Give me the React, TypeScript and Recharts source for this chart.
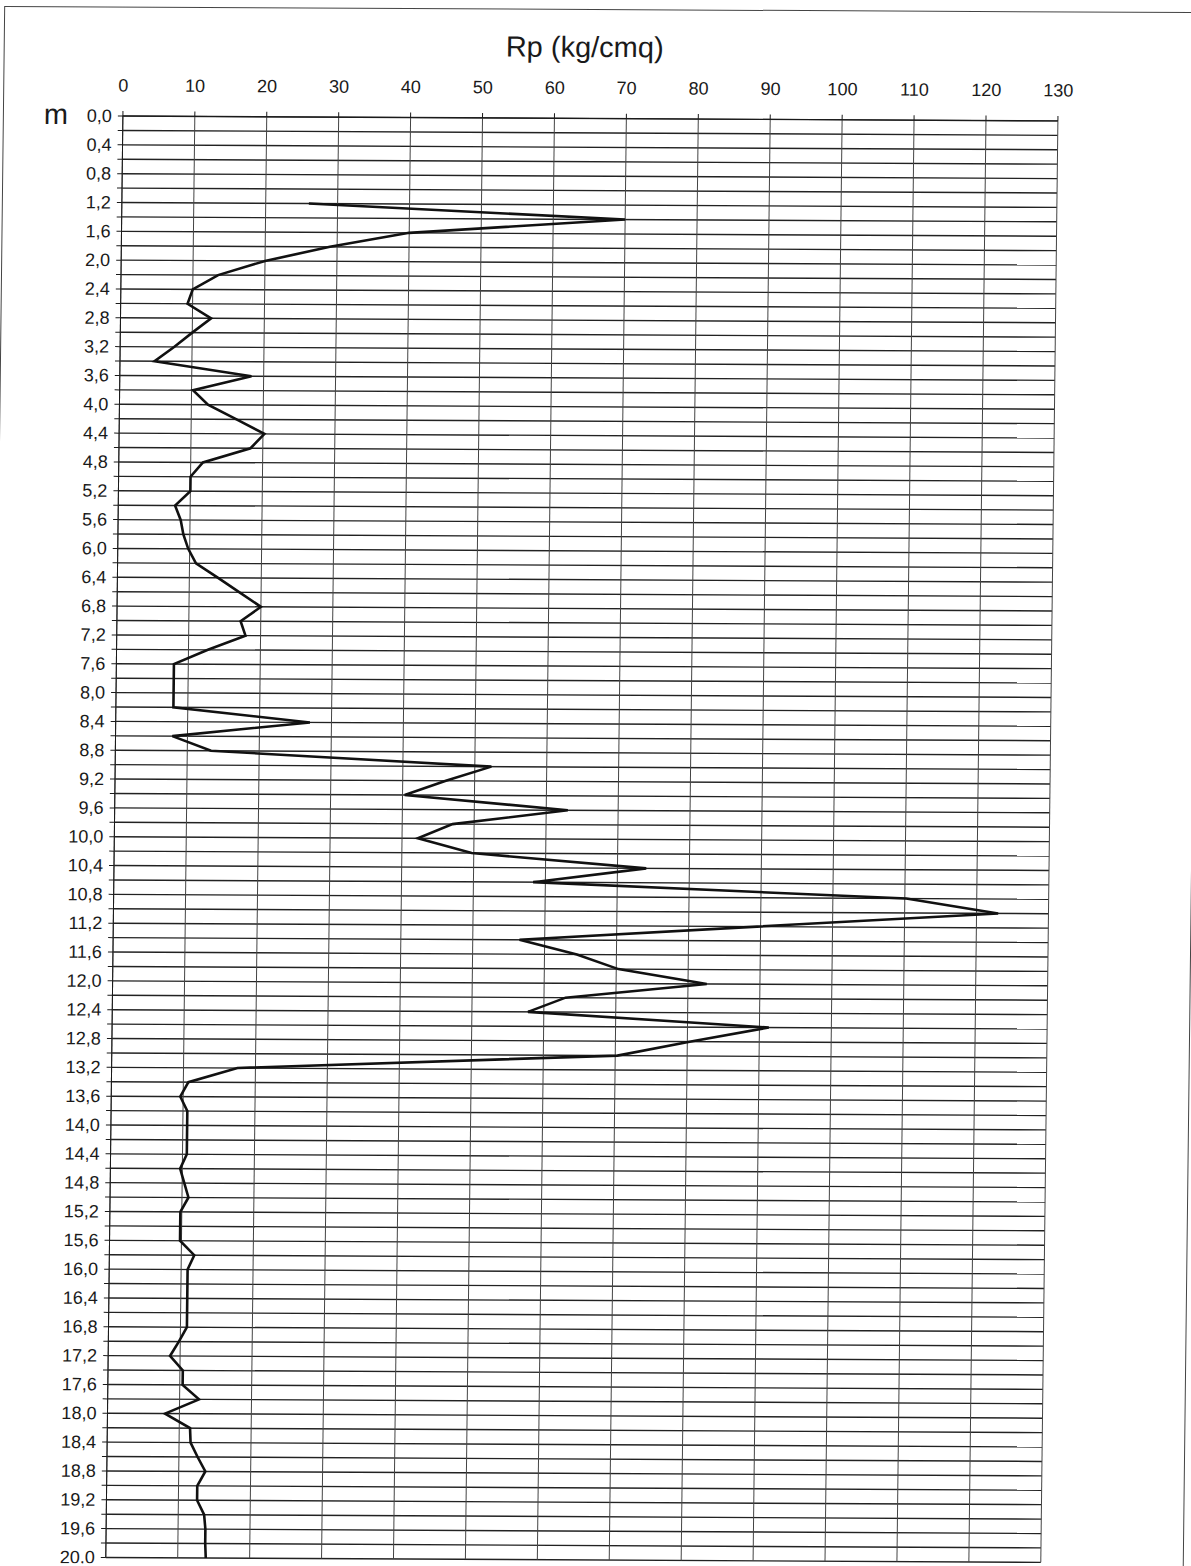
import { LineChart, Line, XAxis, YAxis, CartesianGrid } from 'recharts';

// depth of each reading (m)
const depths = [
  1.2, 1.4, 1.6, 1.8, 2.0, 2.2, 2.4, 2.6, 2.8, 3.0,
  3.2, 3.4, 3.6, 3.8, 4.0, 4.2, 4.4, 4.6, 4.8, 5.0,
  5.2, 5.4, 5.6, 5.8, 6.0, 6.2, 6.4, 6.6, 6.8, 7.0,
  7.2, 7.4, 7.6, 7.8, 8.0, 8.2, 8.4, 8.6, 8.8, 9.0,
  9.2, 9.4, 9.6, 9.8, 10.0, 10.2, 10.4, 10.6, 10.8, 11.0,
  11.2, 11.4, 11.6, 11.8, 12.0, 12.2, 12.4, 12.6, 12.8, 13.0,
  13.2, 13.4, 13.6, 13.8, 14.0, 14.2, 14.4, 14.6, 14.8, 15.0,
  15.2, 15.4, 15.6, 15.8, 16.0, 16.2, 16.4, 16.6, 16.8, 17.0,
  17.2, 17.4, 17.6, 17.8, 18.0, 18.2, 18.4, 18.6, 18.8, 19.0,
  19.2, 19.4, 19.6, 19.8, 20.0,
];

// Rp (kg/cmq), one per depth
const rpValues = [
  26, 70, 40, 29, 20, 13.5, 10, 9.3, 12.6, 10,
  7.5, 4.8, 18.3, 10.2, 12.3, 16.3, 20.2, 18.3, 11.7, 10,
  10, 7.9, 8.7, 9.1, 9.8, 10.9, 14, 17, 20, 17.2,
  17.9, 12.7, 8, 8, 8, 8, 27, 7.9, 13.3, 52.3,
  46, 40.3, 63, 47, 42.2, 49.7, 74, 58.3, 110.2, 123,
  89.5, 56.5, 64.5, 70.3, 82.6, 63, 57.8, 91.3, 80.5, 70.3,
  17.5, 10.7, 9.6, 10.6, 10.6, 10.6, 10.6, 9.7, 10.3, 10.9,
  9.8, 9.8, 9.8, 11.8, 10.9, 10.9, 10.9, 10.9, 10.9, 9.8,
  8.6, 10.4, 10.4, 12.7, 8.0, 11.5, 11.6, 12.6, 13.7, 12.6,
  12.6, 13.6, 13.8, 13.8, 13.9,
];

const rpTicks = [0, 10, 20, 30, 40, 50, 60, 70, 80, 90, 100, 110, 120, 130];
// a grid row every 0.2 m, labelled every 0.4 m
const depthTicks = Array.from({ length: 101 }, (_, i) => (i * 2) / 10);

const data = depths.map((depth, i) => ({ depth, rp: rpValues[i] }));

const FONT = '"Liberation Sans", Arial, sans-serif';
const INK = '#1a1a1a';

function RpTick({ x, y, payload }: any) {
  return (
    <text x={x} y={y} textAnchor="middle" fontFamily={FONT} fontSize={18} fill={INK}>
      {payload.value}
    </text>
  );
}

function DepthTick({ x, y, payload }: any) {
  const step = Math.round(payload.value * 5);
  if (step % 2 !== 0) return <g />;
  const label = payload.value.toFixed(1).replace('.', ',');
  return (
    <text x={x} y={y} dy={6} textAnchor="end" fontFamily={FONT} fontSize={18} fill={INK}>
      {label}
    </text>
  );
}

export default function App() {
  return (
    <div
      style={{
        position: 'absolute',
        left: 0,
        top: 0,
        width: 1191,
        height: 1566,
        overflow: 'hidden',
        background: '#fff',
      }}
    >
      {/* the scan is slightly sheared, so the whole sheet is too */}
      <div
        style={{
          position: 'absolute',
          left: 0,
          top: 0,
          width: 1191,
          height: 1566,
          transformOrigin: '595.5px 783px',
          transform: 'skewY(0.3deg) skewX(-0.68deg)',
        }}
      >
        {/* page frame */}
        <div
          style={{
            position: 'absolute',
            left: -5,
            top: 9,
            width: 1196,
            height: 1700,
            border: '1.5px solid #444',
          }}
        />
        <div
          style={{
            position: 'absolute',
            left: 0,
            width: 1152,
            top: 31,
            textAlign: 'center',
            fontFamily: FONT,
            fontSize: 29,
            color: INK,
          }}
        >
          Rp (kg/cmq)
        </div>
        <div
          style={{
            position: 'absolute',
            left: 36,
            top: 101,
            fontFamily: FONT,
            fontSize: 29,
            color: INK,
          }}
        >
          m
        </div>
        <div style={{ position: 'absolute', left: 0, top: 0 }}>
          <LineChart
            width={1191}
            height={1566}
            data={data}
            layout="vertical"
            margin={{ top: 0, right: 141, bottom: 6, left: 0 }}
          >
            <CartesianGrid vertical={false} stroke="#222" strokeWidth={1.4} />
            <CartesianGrid horizontal={false} stroke="#444" strokeWidth={1} />
            <XAxis
              type="number"
              dataKey="rp"
              orientation="top"
              domain={[0, 130]}
              ticks={rpTicks}
              interval={0}
              height={118.5}
              tickSize={5}
              tickMargin={19.5}
              stroke={INK}
              tick={RpTick}
            />
            <YAxis
              type="number"
              dataKey="depth"
              domain={[0, 20]}
              ticks={depthTicks}
              interval={0}
              width={115}
              tickSize={5}
              tickMargin={6}
              stroke={INK}
              tick={DepthTick}
            />
            <Line
              dataKey="rp"
              stroke="#111"
              strokeWidth={2.6}
              dot={false}
              isAnimationActive={false}
            />
          </LineChart>
        </div>
      </div>
    </div>
  );
}
